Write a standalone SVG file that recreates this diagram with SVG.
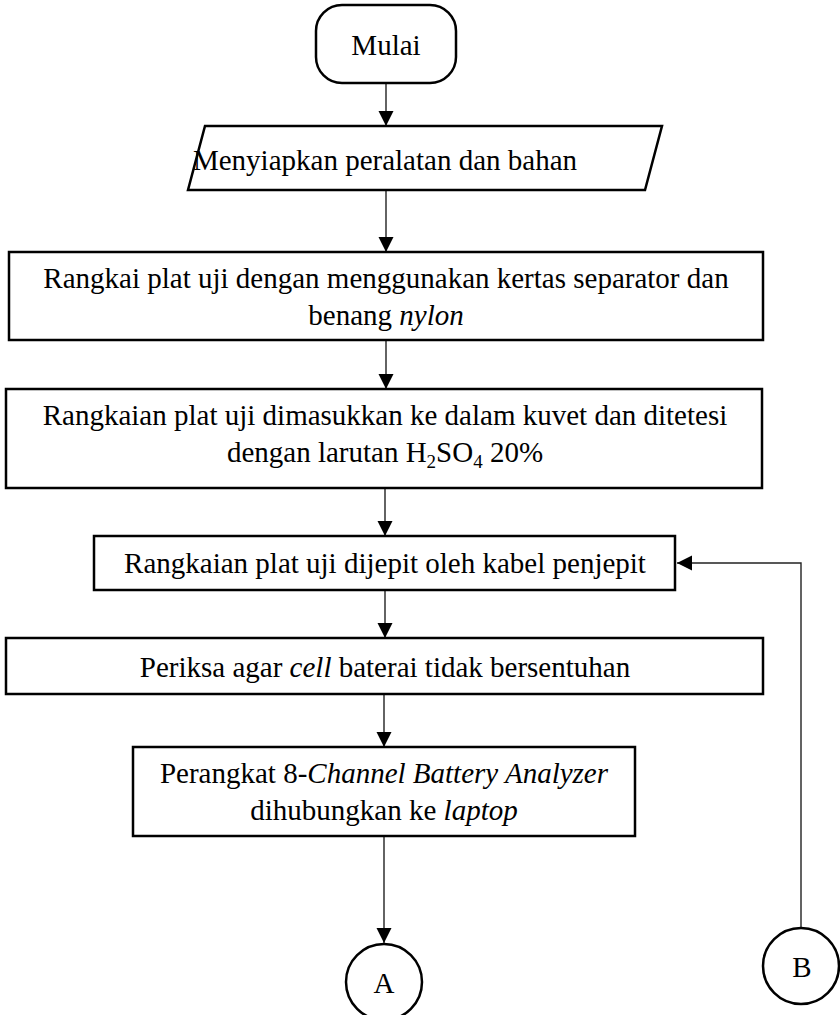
<svg xmlns="http://www.w3.org/2000/svg" width="840" height="1015" viewBox="0 0 840 1015">
<style>
.box{fill:#fff;stroke:#000;stroke-width:2.5}
.t{font-family:"Liberation Serif","Times New Roman",serif;font-size:29px;fill:#000;text-anchor:middle}
.i{font-style:italic}
.sub{font-size:19px}
.c{fill:none;stroke:#222;stroke-width:1.4}
</style>
<defs>
<marker id="ah" markerUnits="userSpaceOnUse" markerWidth="16" markerHeight="16" viewBox="0 0 16 16" refX="15" refY="7.5" orient="auto">
<path d="M0,0 L15,7.5 L0,15 z" fill="#000"/>
</marker>
</defs>
<rect width="840" height="1015" fill="#fff"/>
<g id="connectors">
<line class="c" x1="386" y1="83" x2="386" y2="126" marker-end="url(#ah)"/>
<line class="c" x1="386" y1="190" x2="386" y2="252" marker-end="url(#ah)"/>
<line class="c" x1="386" y1="340" x2="386" y2="389" marker-end="url(#ah)"/>
<line class="c" x1="385" y1="488" x2="385" y2="536" marker-end="url(#ah)"/>
<line class="c" x1="385" y1="590" x2="385" y2="638" marker-end="url(#ah)"/>
<line class="c" x1="384" y1="694" x2="384" y2="747" marker-end="url(#ah)"/>
<line class="c" x1="384" y1="836" x2="384" y2="943" marker-end="url(#ah)"/>
<polyline class="c" points="801,927 801,563 677,563" marker-end="url(#ah)"/>
</g>
<g id="mulai">
<rect class="box" x="316" y="5" width="140" height="78" rx="26" ry="26"/>
<text class="t" x="386" y="55">Mulai</text>
</g>
<g id="siapkan">
<polygon class="box" points="205,126 662,126 645,190 188,190"/>
<text class="t" x="385" y="170">Menyiapkan peralatan dan bahan</text>
</g>
<g id="rangkai">
<rect class="box" x="9" y="252" width="754" height="88"/>
<text class="t" x="386" y="288">Rangkai plat uji dengan menggunakan kertas separator dan</text>
<text class="t" x="386" y="325">benang <tspan class="i">nylon</tspan></text>
</g>
<g id="kuvet">
<rect class="box" x="6" y="389" width="756" height="99"/>
<text class="t" x="385" y="425">Rangkaian plat uji dimasukkan ke dalam kuvet dan ditetesi</text>
<text class="t" x="385" y="462">dengan larutan H<tspan class="sub" dy="6">2</tspan><tspan dy="-6">SO</tspan><tspan class="sub" dy="6">4</tspan><tspan dy="-6"> 20%</tspan></text>
</g>
<g id="jepit">
<rect class="box" x="94" y="536" width="581" height="54"/>
<text class="t" x="385" y="573">Rangkaian plat uji dijepit oleh kabel penjepit</text>
</g>
<g id="periksa">
<rect class="box" x="6" y="638" width="757" height="56"/>
<text class="t" x="385" y="677">Periksa agar <tspan class="i">cell</tspan> baterai tidak bersentuhan</text>
</g>
<g id="analyzer">
<rect class="box" x="133" y="747" width="502" height="89"/>
<text class="t" x="384" y="783">Perangkat 8-<tspan class="i">Channel Battery Analyzer</tspan></text>
<text class="t" x="384" y="820">dihubungkan ke <tspan class="i">laptop</tspan></text>
</g>
<g id="A">
<circle class="box" cx="384" cy="982" r="38"/>
<text class="t" x="384" y="993">A</text>
</g>
<g id="B">
<circle class="box" cx="801" cy="966" r="38"/>
<text class="t" x="802" y="977">B</text>
</g>
</svg>
